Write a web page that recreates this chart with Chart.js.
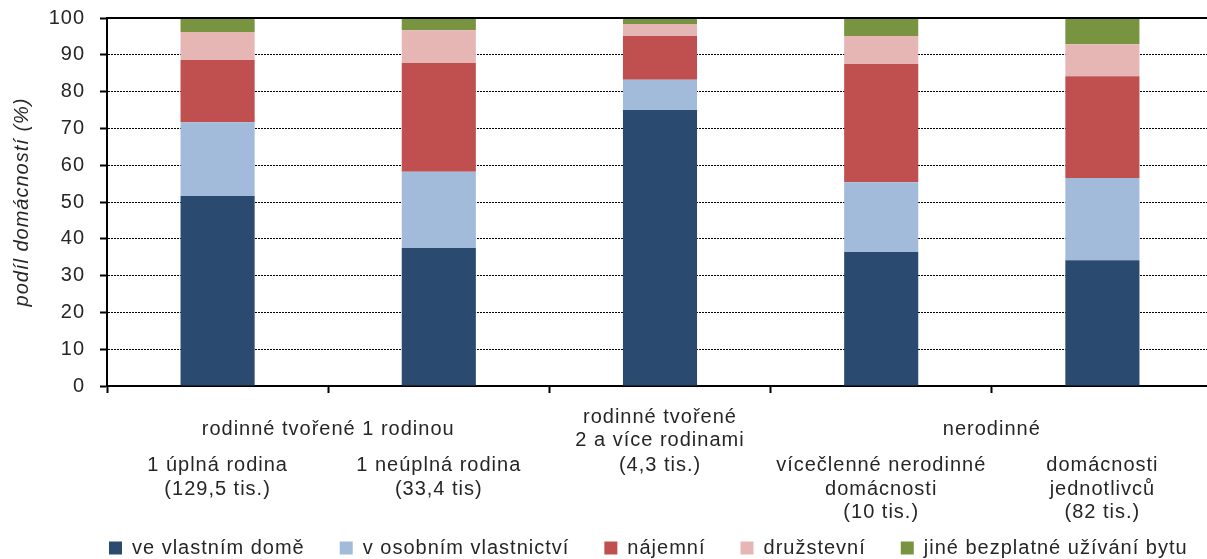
<!DOCTYPE html>
<html>
<head>
<meta charset="utf-8">
<script src="https://cdn.jsdelivr.net/npm/chart.js@4"></script>
<style>
  html, body { margin: 0; padding: 0; background: #fff; overflow: hidden; }
  #wrap { width: 1213px; height: 559px; }
</style>
</head>
<body>
<div id="wrap"><canvas id="housingChart"></canvas></div>
<script>
// kategorie domácností (popisky pod osou, po řádcích)
const categories = [
  ['1 úplná rodina', '(129,5 tis.)'],
  ['1 neúplná rodina', '(33,4 tis)'],
  ['(4,3 tis.)'],
  ['vícečlenné nerodinné', 'domácnosti', '(10 tis.)'],
  ['domácnosti', 'jednotlivců', '(82 tis.)']
];
// skupiny nad kategoriemi
const groupLabels = [['rodinné tvořené 1 rodinou'], ['rodinné tvořené', '2 a více rodinami'], ['nerodinné']];
const groupFirst = [0, 2, 3];
const groupLast = [1, 2, 4];

const vlastniDum = [51.6, 37.5, 75.0, 36.4, 34.2];
const osobniVlastnictvi = [20.1, 20.7, 8.2, 19.0, 22.3];
const najemni = [16.9, 29.6, 11.9, 32.1, 27.7];
const druzstevni = [7.6, 8.9, 3.3, 7.6, 8.7];
const jineBezplatne = [3.8, 3.3, 1.6, 4.9, 7.1];

const yTicks = [0, 10, 20, 30, 40, 50, 60, 70, 80, 90, 100];

const textColor = '#262626';
const fontSize = 20;
Chart.defaults.font.family = '"Liberation Sans", Arial, sans-serif';
Chart.defaults.font.size = fontSize;
Chart.defaults.color = textColor;

const spacing = '1px';
const setSpacing = chart => { chart.ctx.letterSpacing = spacing; };

const extras = {
  id: 'extras',
  beforeUpdate: setSpacing,
  beforeLayout: setSpacing,
  beforeDraw: setSpacing,
  afterLayout(chart) {
    // legenda zarovnaná s levým okrajem grafu
    const lg = chart.legend;
    const pad = lg.options.labels.padding;
    lg.left = chart.chartArea.left + 2 - pad;
    lg.right = lg.left + 3000;
    lg.top = 548 - pad - fontSize / 2;
    lg.bottom = lg.top + 60;
  },
  afterDatasetsDraw(chart) {
    const ctx = chart.ctx;
    const y = chart.scales.y;
    const top = y.getPixelForValue(100);
    ctx.save();
    ctx.strokeStyle = '#000';
    ctx.lineWidth = 2;
    ctx.beginPath();
    ctx.moveTo(chart.chartArea.left, top);
    ctx.lineTo(chart.chartArea.right, top);
    ctx.stroke();
    ctx.restore();
  },
  afterDraw(chart) {
    const ctx = chart.ctx;
    const x = chart.scales.x;
    ctx.save();
    ctx.letterSpacing = spacing;
    ctx.font = fontSize + 'px "Liberation Sans", Arial, sans-serif';
    ctx.fillStyle = textColor;
    ctx.textAlign = 'center';
    ctx.textBaseline = 'middle';
    const lh = 23.5;
    groupLabels.forEach((lines, i) => {
      const cx = (x.getPixelForValue(groupFirst[i]) + x.getPixelForValue(groupLast[i])) / 2;
      const cy = x.top + 43;
      lines.forEach((t, k) => {
        ctx.fillText(t, cx, cy + (k - (lines.length - 1) / 2) * lh);
      });
    });
    ctx.restore();
  }
};

const ctx = document.getElementById('housingChart');
new Chart(ctx, {
  type: 'bar',
  data: {
    labels: categories,
    datasets: [
      { label: 've vlastním domě', data: vlastniDum, backgroundColor: '#2A4B6F' },
      { label: 'v osobním vlastnictví', data: osobniVlastnictvi, backgroundColor: '#A2BBDB' },
      { label: 'nájemní', data: najemni, backgroundColor: '#C0504F' },
      { label: 'družstevní', data: druzstevni, backgroundColor: '#E6B6B5' },
      { label: 'jiné bezplatné užívání bytu', data: jineBezplatne, backgroundColor: '#789440' }
    ].map(d => Object.assign(d, { borderWidth: 0, barPercentage: 0.335, categoryPercentage: 1 }))
  },
  options: {
    responsive: true,
    maintainAspectRatio: false,
    animation: false,
    layout: { padding: { left: 0, right: 0, top: 18, bottom: 0 } },
    plugins: {
      tooltip: { enabled: false },
      legend: {
        position: 'bottom',
        align: 'start',
        maxHeight: 20,
        labels: { boxWidth: 13, boxHeight: 13, padding: 35, font: { size: fontSize } }
      }
    },
    scales: {
      x: {
        stacked: true,
        grid: {
          offset: true, drawOnChartArea: false, drawTicks: true, tickLength: 7, color: '#000', tickWidth: 2,
          tickColor: c => (c.type === 'tick' ? '#000' : 'rgba(0,0,0,0)')
        },
        border: { color: '#000', width: 2 },
        ticks: { autoSkip: false, maxRotation: 0, padding: 61, font: { size: fontSize, lineHeight: '23.5px' } },
        afterFit(s) {
          s.paddingLeft = 0;
          s.paddingRight = 0;
          s.height = s.chart.height - 386 - s.chart.legend.height;
        }
      },
      y: {
        stacked: true,
        min: 0,
        max: 100,
        afterBuildTicks(s) { s.ticks = yTicks.map(v => ({ value: v })); },
        grid: { color: '#000', lineWidth: 1, tickLength: 7, tickWidth: 2, tickColor: '#000' },
        border: { color: '#000', width: 2, dash: [2, 1] },
        ticks: { padding: 15, font: { size: fontSize } },
        title: { display: true, text: 'podíl domácností (%)', font: { size: fontSize, style: 'italic' }, padding: { top: 10, bottom: 0 } },
        afterFit(s) {
          s.width = 107;
          s.paddingTop = 0;
          s.paddingBottom = 0;
        }
      }
    }
  },
  plugins: [extras]
});
</script>
</body>
</html>
